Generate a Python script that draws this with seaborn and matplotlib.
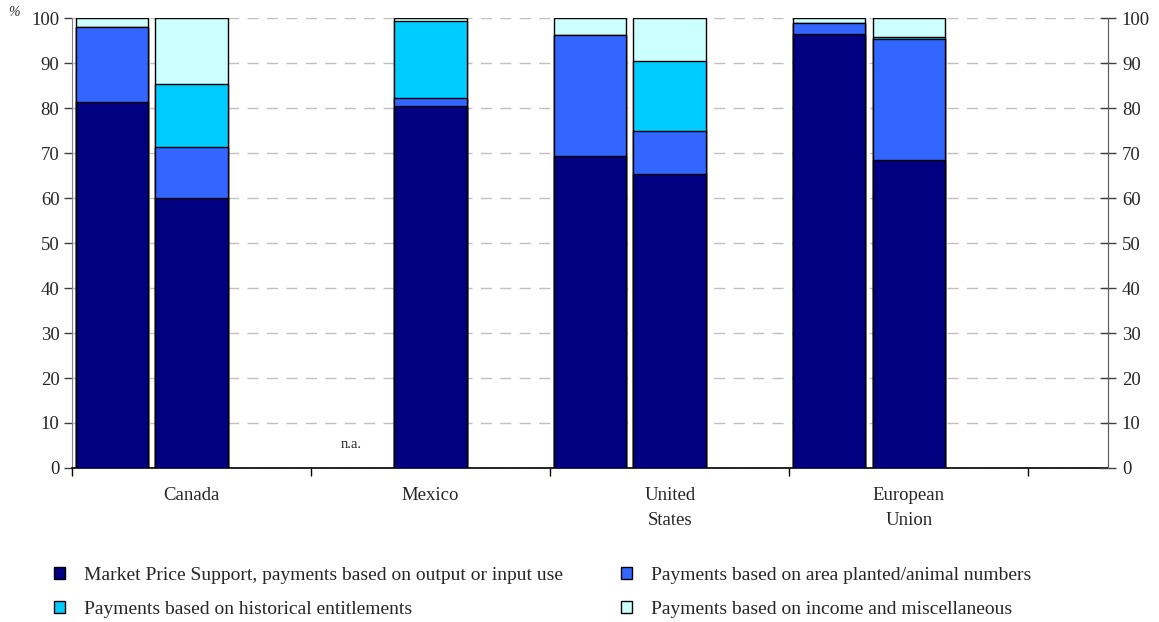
import matplotlib
matplotlib.use("Agg")
import matplotlib.pyplot as plt
from matplotlib.patches import Patch
import pandas as pd
import seaborn as sns

# Slots along the x axis: two bars per country plus a spacer slot
slots = ["CA1", "CA2", "g1", "MX1", "MX2", "g2", "US1", "US2", "g3",
         "EU1", "EU2", "g4", "g5"]
countries = ["Canada", "Mexico", "United\nStates", "European\nUnion"]

# Bars that have data (Mexico first bar is n.a.)
bar_slots = ["CA1", "CA2", "MX2", "US1", "US2", "EU1", "EU2"]
mps = [81.4, 60.0, 80.4, 69.3, 65.3, 96.4, 68.4]
area = [16.5, 11.3, 1.8, 27.0, 9.6, 2.6, 26.9]
hist = [0.0, 14.0, 17.1, 0.0, 15.5, 0.0, 0.4]
misc = [2.1, 14.7, 0.7, 3.7, 9.6, 1.0, 4.3]

labels = ["Market Price Support, payments based on output or input use",
          "Payments based on area planted/animal numbers",
          "Payments based on historical entitlements",
          "Payments based on income and miscellaneous"]
colors = ["#000080", "#3366FF", "#00CCFF", "#CCFFFF"]

df = pd.DataFrame({"slot": bar_slots, "mps": mps, "area": area,
                   "hist": hist, "misc": misc})
df["c1"] = df["mps"]
df["c2"] = df["c1"] + df["area"]
df["c3"] = df["c2"] + df["hist"]
df["c4"] = df["c3"] + df["misc"]

sns.set_style("white")
plt.rcParams["font.family"] = ["Liberation Serif", "DejaVu Serif"]

fig = plt.figure(figsize=(11.59, 6.22), dpi=100)
ax = fig.add_axes([0.0621, 0.2476, 0.8939, 0.7234])

# stack by overlaying cumulative totals, tallest first
for col, color in zip(["c4", "c3", "c2", "c1"], colors[::-1]):
    sns.barplot(data=df, x="slot", y=col, order=slots, color=color,
                width=0.91, edgecolor="black", linewidth=1.0,
                saturation=1, ax=ax, zorder=3)

ax.set_xlim(-0.5, 12.5)
ax.set_ylim(0, 100)
ax.set_yticks(range(0, 101, 10))
ax.set_xlabel("")
ax.set_ylabel("")
ax.yaxis.grid(True, linestyle=(0, (8, 6)), color="#c0c0c0", linewidth=1.0)
ax.set_axisbelow(True)

ax.set_xticks([-0.5, 2.5, 5.5, 8.5, 11.5])
ax.set_xticklabels([])
ax.set_xticks([1, 4, 7, 10], minor=True)
ax.set_xticklabels(countries, minor=True, fontsize=13.5, va="top",
                   linespacing=1.6)
ax.tick_params(axis="x", which="major", direction="out", length=6,
               width=1, color="black", bottom=True)
ax.tick_params(axis="x", which="minor", length=0, pad=14)
ax.tick_params(axis="y", direction="out", length=6, width=1,
               color="#404040", labelsize=13.5, left=True, pad=3)

ax.spines["top"].set_visible(False)
ax.spines["left"].set_color("#808080")
ax.spines["right"].set_color("#606060")
ax.spines["bottom"].set_color("black")
ax.spines["bottom"].set_linewidth(1.2)

ax2 = ax.twinx()
ax2.set_ylim(0, 100)
ax2.set_yticks(range(0, 101, 10))
ax2.tick_params(axis="y", direction="inout", length=12, width=1,
                color="#404040", labelsize=13.5, right=True, pad=4)
for s in ["top", "left", "bottom"]:
    ax2.spines[s].set_visible(False)
ax2.spines["right"].set_color("#606060")

ax.text(3.0, 5.3, "n.a.", ha="center", va="center", fontsize=10.5)
fig.text(14 / 1159, 1 - 12 / 622, "%", fontsize=10, style="italic",
         ha="center", va="center")

handles = [Patch(facecolor=c, edgecolor="black", linewidth=1.0) for c in colors]
leg_kw = dict(frameon=False, fontsize=14, handlelength=0.55, handleheight=0.6,
              handletextpad=1.0, labelspacing=0.85, borderpad=0,
              borderaxespad=0, loc="upper left")
fig.legend([handles[0], handles[2]], [labels[0], labels[2]],
           bbox_to_anchor=(54 / 1159, 1 - 567 / 622), **leg_kw)
fig.legend([handles[1], handles[3]], [labels[1], labels[3]],
           bbox_to_anchor=(621 / 1159, 1 - 567 / 622), **leg_kw)

fig.savefig("out.png", dpi=100)
